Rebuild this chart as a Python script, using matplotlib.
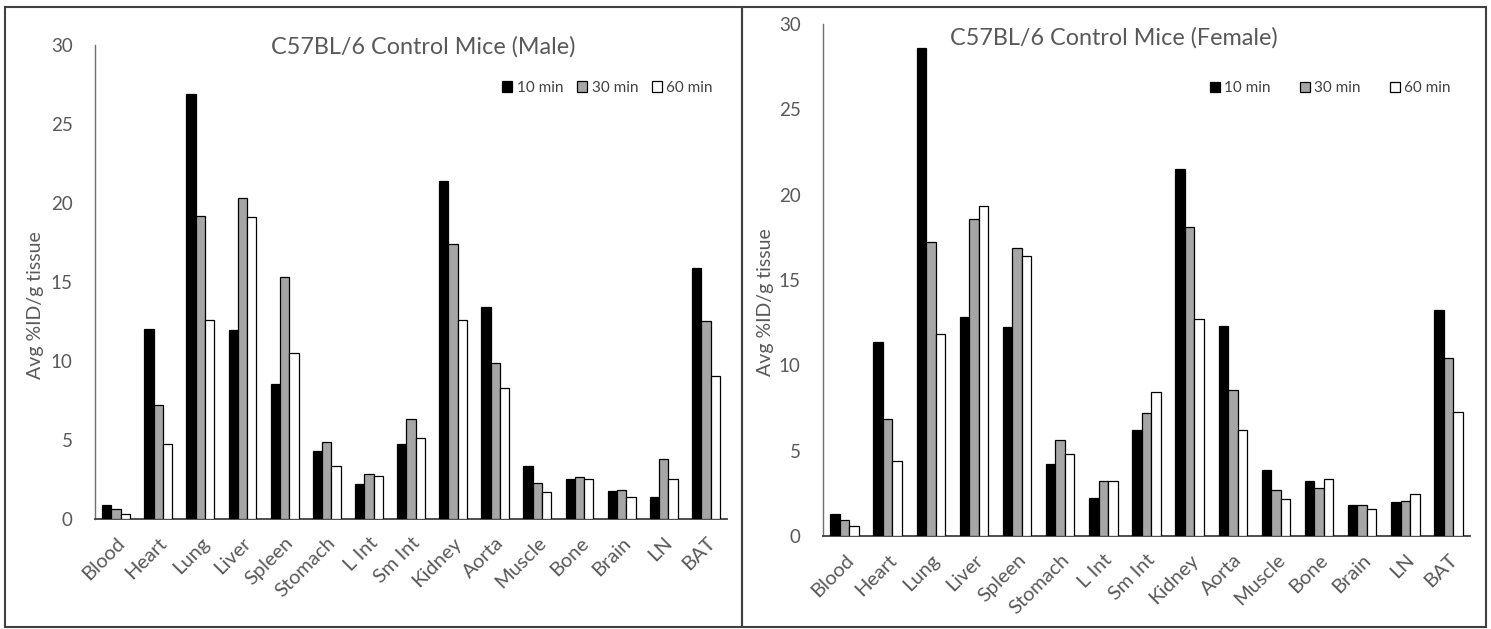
import matplotlib.pyplot as plt
from matplotlib.patches import Rectangle
import numpy as np

# --- DATA ---
TISSUES = ["Blood", "Heart", "Lung", "Liver", "Spleen", "Stomach", "L Int",
           "Sm Int", "Kidney", "Aorta", "Muscle", "Bone", "Brain", "LN", "BAT"]
SERIES = ["10 min", "30 min", "60 min"]

male_10 = [0.89, 12.0, 26.9, 11.95, 8.5, 4.3, 2.2, 4.73, 21.4, 13.4, 3.35, 2.53, 1.75, 1.39, 15.85]
male_30 = [0.61, 7.2, 19.15, 20.3, 15.3, 4.83, 2.83, 6.33, 17.4, 9.83, 2.28, 2.64, 1.84, 3.76, 12.49]
male_60 = [0.32, 4.7, 12.6, 19.07, 10.47, 3.35, 2.72, 5.1, 12.58, 8.27, 1.67, 2.53, 1.39, 2.53, 9.03]

female_10 = [1.27, 11.35, 28.57, 12.81, 12.26, 4.2, 2.23, 6.21, 21.5, 12.32, 3.85, 3.22, 1.82, 1.99, 13.22]
female_30 = [0.92, 6.87, 17.2, 18.6, 16.87, 5.64, 3.22, 7.19, 18.1, 8.57, 2.71, 2.79, 1.82, 2.07, 10.45]
female_60 = [0.61, 4.41, 11.83, 19.31, 16.38, 4.82, 3.22, 8.42, 12.71, 6.21, 2.15, 3.36, 1.58, 2.48, 7.26]

FILLS = ["#000000", "#a6a6a6", "#ffffff"]
GRAY = "#595959"
W, H = 1491, 629

plt.rcParams['font.family'] = ['Lato', 'DejaVu Sans']

fig = plt.figure(figsize=(W / 100, H / 100), dpi=100)


def px_axes(x0, x1, y_top, y_bot):
    # convert pixel box (image coords) to figure fraction
    return [x0 / W, 1 - y_bot / H, (x1 - x0) / W, (y_bot - y_top) / H]


def draw_panel(rect, data, title, title_xy, legend_xy, colspace, ylabel_px):
    ax = fig.add_axes(rect)
    x = np.arange(len(TISSUES))
    bw = 0.22
    for i, (vals, fc) in enumerate(zip(data, FILLS)):
        ax.bar(x + (i - 1) * bw, vals, bw, color=fc, edgecolor="black",
               linewidth=0.9, label=SERIES[i], zorder=3)
    ax.set_xlim(-0.5, len(TISSUES) - 0.5)
    ax.set_ylim(0, 30)
    ax.set_yticks([0, 5, 10, 15, 20, 25, 30])
    ax.set_xticks(x)
    ax.set_xticklabels(TISSUES, rotation=45, ha="right", va="top",
                       rotation_mode="anchor", fontsize=14.5, color=GRAY)
    ax.tick_params(axis="x", length=0, pad=11)
    ax.tick_params(axis="y", length=0, pad=16, labelsize=13.5, labelcolor=GRAY)
    for s in ["top", "right"]:
        ax.spines[s].set_visible(False)
    ax.spines["left"].set_color("#707070")
    ax.spines["bottom"].set_color("#404040")
    ax.spines["left"].set_linewidth(1.0)
    ax.spines["bottom"].set_linewidth(1.3)
    ax.text(title_xy[0], title_xy[1], title, transform=ax.transAxes,
            ha="center", va="center", fontsize=16.8, color=GRAY)
    ax.legend(loc="center", bbox_to_anchor=legend_xy, ncol=3, frameon=False,
              fontsize=11, handlelength=0.65, handleheight=0.65,
              handletextpad=0.3, columnspacing=colspace, labelcolor="#404040")
    fig.text(ylabel_px[0] / W, 1 - ylabel_px[1] / H, "Avg %ID/g tissue",
             rotation=90, ha="center", va="center", fontsize=14, color=GRAY)
    return ax


draw_panel(px_axes(95, 727, 44.7, 518.7), [male_10, male_30, male_60],
           "C57BL/6 Control Mice (Male)", (0.52, 0.995), (0.811, 0.909), 0.9, (36, 305))
draw_panel(px_axes(823, 1470, 24, 536), [female_10, female_30, female_60],
           "C57BL/6 Control Mice (Female)", (0.449, 0.973), (0.784, 0.875), 1.9, (765, 302))

# panel frames
for x0, x1 in [(5, 742), (742, 1486)]:
    fig.add_artist(Rectangle((x0 / W, 1 - 627 / H), (x1 - x0) / W, 620 / H,
                             transform=fig.transFigure, fill=False,
                             edgecolor="#404040", linewidth=1.5))

fig.savefig("out.png", dpi=100)
